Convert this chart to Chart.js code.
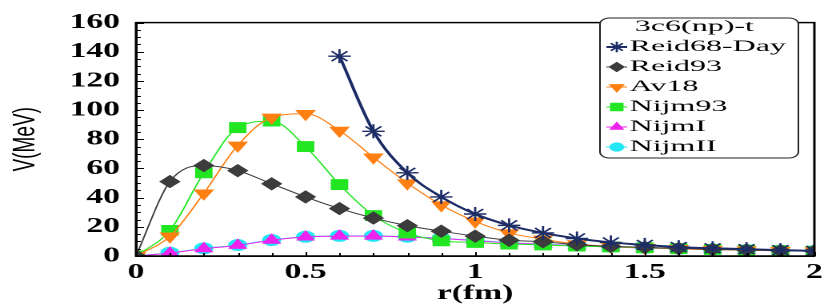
<!DOCTYPE html>
<html>
<head>
<meta charset="utf-8">
<script src="https://cdn.jsdelivr.net/npm/chart.js@4/dist/chart.umd.min.js"></script>
<style>
  html, body { margin: 0; padding: 0; background: #fff; overflow: hidden; }
  #wrap { width: 519px; height: 306px; transform: scaleX(1.6); transform-origin: 0 0; }
</style>
</head>
<body>
<div id="wrap"><canvas id="chartV" width="519" height="306"></canvas></div>
<script>
// Data (r in fm, V in MeV)
const rValues = [0, 0.1, 0.2, 0.3, 0.4, 0.5, 0.6, 0.7, 0.8, 0.9, 1.0, 1.1, 1.2, 1.3, 1.4, 1.5, 1.6, 1.7, 1.8, 1.9, 2.0];
const reid68Day = [null, null, null, null, null, null, 137, 85.5, 57, 40.5, 28.8, 21, 15.8, 12, 9.3, 7.6, 6.1, 5.3, 4.7, 4, 3.5];
const reid93 = [0, 51, 62, 58.5, 49.5, 40.5, 32.5, 26, 20.8, 17, 13.6, 10.8, 9.8, 7.8, 6.6, 6, 5.2, 4.6, 4.1, 3.7, 3.4];
const av18 = [0, 13.5, 43, 75.8, 95, 97.5, 86, 67.7, 50, 35, 23.8, 15.8, 11.5, 8.2, 6.6, 5.8, 5, 4.4, 4, 3.6, 3.3];
const nijm93 = [0, 17.5, 57, 88, 92.5, 75, 49, 27.7, 15.8, 10.4, 9.3, 8.2, 7.6, 6.8, 6.2, 5.6, 5, 4.5, 4, 3.6, 3.3];
const nijmI = [0, 2, 5, 7.3, 10.8, 13, 13.6, 13.6, 13, 12, 10.5, 9, 8, 7, 6.2, 5.5, 4.9, 4.4, 4, 3.6, 3.3];
const nijmII = [0, 2.2, 5.2, 7.5, 11, 13.2, 13.8, 13.8, 13.2, 12.2, 10.7, 9.2, 8.1, 7.1, 6.3, 5.6, 5, 4.5, 4.1, 3.7, 3.4];
const yTicks = [0, 20, 40, 60, 80, 100, 120, 140, 160];
const xTicks = [0, 0.5, 1, 1.5, 2];
const legendTitle = "3c6(np)-t";

function pts(arr) {
  return rValues.map((r, i) => ({ x: r, y: arr[i] }));
}

function serie(label, arr, color, style, radius, extra) {
  return Object.assign({
    label: label,
    data: pts(arr),
    borderColor: color,
    backgroundColor: color,
    pointBackgroundColor: color,
    pointBorderColor: color,
    pointStyle: style,
    pointRadius: radius,
    pointBorderWidth: 1,
    borderWidth: 1,
    cubicInterpolationMode: "monotone",
    spanGaps: false,
  }, extra || {});
}

const datasets = [
  serie("Reid68-Day", reid68Day, "#1c2c66", "star", 7, { borderWidth: 2, pointBorderWidth: 1.4 }),
  serie("Reid93", reid93, "#3c3c3c", "rectRot", 6),
  serie("Av18", av18, "#ff7f12", "triangle", 6.5, { pointRotation: 180 }),
  serie("Nijm93", nijm93, "#22e622", "rect", 7),
  serie("NijmI", nijmI, "#ee22ee", "triangle", 6),
  serie("NijmII", nijmII, "#22e6f6", "circle", 5.5),
];

// ticks inside the axes + outer frame
const frameTicks = {
  id: "frameTicks",
  afterDraw(chart) {
    const ctx = chart.ctx;
    const a = chart.chartArea;
    const xs = chart.scales.x, ys = chart.scales.y;
    ctx.save();
    ctx.strokeStyle = "#000";
    ctx.lineWidth = 1;
    for (let v = 0; v <= 160; v += 5) {
      const y = Math.round(ys.getPixelForValue(v)) + 0.5;
      const len = v % 20 === 0 ? 5 : 3;
      ctx.beginPath();
      ctx.moveTo(a.left, y);
      ctx.lineTo(a.left + len, y);
      ctx.stroke();
    }
    for (let i = 0; i <= 20; i++) {
      const x = Math.round(xs.getPixelForValue(i / 10)) + 0.5;
      const len = i % 5 === 0 ? 4 : 3;
      ctx.beginPath();
      ctx.moveTo(x, a.bottom);
      ctx.lineTo(x, a.bottom - len);
      ctx.stroke();
    }
    ctx.lineWidth = 1.5;
    ctx.strokeRect(a.left, a.top, a.right - a.left, a.bottom - a.top);
    ctx.restore();
  },
};

// legend box drawn inside the plot
const boxLegend = {
  id: "boxLegend",
  afterDraw(chart) {
    const ctx = chart.ctx;
    const x0 = 375, y0 = 18, w = 124, h = 140;
    ctx.save();
    ctx.fillStyle = "#fff";
    ctx.strokeStyle = "#222";
    ctx.lineWidth = 1;
    ctx.beginPath();
    ctx.roundRect(x0, y0, w, h, 6);
    ctx.fill();
    ctx.stroke();

    ctx.font = "16px 'Liberation Serif'";
    ctx.fillStyle = "#000";
    ctx.textBaseline = "middle";
    const sx = 1.25;
    const tw = ctx.measureText(legendTitle).width * sx;
    ctx.save();
    ctx.translate(434 - tw / 2, 27);
    ctx.scale(sx, 1);
    ctx.fillText(legendTitle, 0, 0);
    ctx.restore();

    chart.data.datasets.forEach((ds, i) => {
      const y = 47 + i * 20;
      ctx.strokeStyle = ds.borderColor;
      ctx.lineWidth = ds.borderWidth;
      ctx.beginPath();
      ctx.moveTo(379, y);
      ctx.lineTo(392, y);
      ctx.stroke();
      ctx.fillStyle = ds.pointBackgroundColor;
      ctx.lineWidth = ds.pointBorderWidth;
      Chart.helpers.drawPoint(ctx, {
        pointStyle: ds.pointStyle,
        rotation: ds.pointRotation || 0,
        radius: ds.pointRadius * 0.75,
        borderWidth: ds.pointBorderWidth,
      }, 385.5, y);
      ctx.fillStyle = "#000";
      ctx.save();
      ctx.translate(393.5, y);
      ctx.scale(sx, 1);
      ctx.fillText(ds.label, 0, 0);
      ctx.restore();
    });
    ctx.restore();
  },
};

new Chart(document.getElementById("chartV"), {
  type: "line",
  data: { datasets: datasets },
  options: {
    responsive: false,
    animation: false,
    devicePixelRatio: 2,
    layout: { padding: { top: 10, right: 10, bottom: 0, left: 0 } },
    plugins: { legend: { display: false }, tooltip: { enabled: false } },
    scales: {
      x: {
        type: "linear",
        min: 0,
        max: 2,
        afterBuildTicks: (s) => { s.ticks = xTicks.map((v) => ({ value: v })); },
        afterFit: (s) => { s.height = 50; },
        grid: { display: false, drawTicks: false },
        border: { display: true, color: "#000", width: 1.5 },
        ticks: {
          padding: 4,
          color: "#000",
          font: { family: "'Liberation Serif'", size: 21, weight: "bold" },
          callback: (v) => String(v),
        },
        title: {
          display: true,
          text: "r(fm)",
          color: "#000",
          padding: { top: 0, bottom: 0 },
          font: { family: "'Liberation Serif'", size: 21, weight: "bold" },
        },
      },
      y: {
        min: 0,
        max: 160,
        afterBuildTicks: (s) => { s.ticks = yTicks.map((v) => ({ value: v })); },
        afterFit: (s) => { s.width = 85; },
        grid: { display: false, drawTicks: false },
        border: { display: true, color: "#000", width: 1.5 },
        ticks: {
          padding: 10,
          color: "#000",
          font: { family: "'Liberation Serif'", size: 21, weight: "bold" },
        },
        title: {
          display: true,
          text: "V(MeV)",
          color: "#000",
          padding: { top: 5, bottom: 0 },
          font: { family: "'Liberation Sans'", size: 19 },
        },
      },
    },
  },
  plugins: [frameTicks, boxLegend],
});
</script>
</body>
</html>
